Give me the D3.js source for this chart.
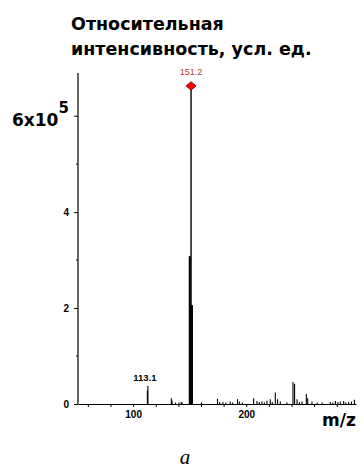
<!DOCTYPE html>
<html><head><meta charset="utf-8">
<script src="https://cdn.jsdelivr.net/npm/d3@7"></script>
<style>body{margin:0;background:#fff;}svg{display:block;}</style>
</head><body>
<svg id="c" width="364" height="471"></svg>
<script>
// m/z values and relative intensities (x10^5)
const mz = [112.6, 113.1, 133.8, 134.4, 137.5, 140.5, 142.5, 143.3, 149.8, 150.4, 151.2, 151.7, 152.3, 160.5,
  174.6, 176.5, 179.4, 182.0, 185.8, 188.0, 192.3, 194.0, 196.5, 206.5, 209.5, 211.5, 213.9, 216.0, 218.3, 221.2,
  223.0, 225.7, 227.7, 230.1, 236.0, 241.3, 242.7, 244.9, 247.0, 249.3, 253.1, 254.3, 258.1, 262.6, 267.0,
  274.3, 276.5, 278.8, 281.0, 283.2, 286.1, 288.0, 290.5, 293.0, 295.6];
const intensity = [0.28, 0.375, 0.12, 0.07, 0.03, 0.03, 0.04, 0.03, 3.08, 3.08, 6.63, 2.06, 2.06, 0.03,
  0.11, 0.04, 0.04, 0.03, 0.05, 0.03, 0.1, 0.05, 0.03, 0.12, 0.06, 0.04, 0.05, 0.03, 0.07, 0.1,
  0.04, 0.24, 0.1, 0.05, 0.03, 0.46, 0.42, 0.1, 0.04, 0.05, 0.21, 0.12, 0.05, 0.03, 0.03,
  0.04, 0.03, 0.06, 0.04, 0.05, 0.06, 0.03, 0.04, 0.05, 0.09];
const peakLabels = [{mz: 151.2, text: "151.2"}, {mz: 113.1, text: "113.1"}];
const yMajor = [0, 2, 4];
const yMinor = [1, 3, 5];
const xTicks = [60, 80, 100, 120, 140, 160, 180, 200, 220, 240, 260, 280];
const xLabeled = [100, 200];
const titleLines = ["Относительная", "интенсивность, усл. ед."];

const svg = d3.select("#c");
const x = d3.scaleLinear().domain([51.3, 297]).range([78, 356]);
const y = d3.scaleLinear().domain([0, 6.9]).range([404, 73]);

// title
svg.append("text").attr("font-family", "DejaVu Sans").attr("font-weight", "bold").attr("font-size", 17.5)
  .selectAll("tspan").data(titleLines).join("tspan")
  .attr("x", 71).attr("y", (d, i) => 30 + i * 24.5).text(d => d);

// y axis
const ya = svg.append("g").attr("transform", "translate(78,0)");
ya.call(d3.axisLeft(y).tickValues(yMajor).tickSize(4).tickSizeOuter(0).tickFormat(d3.format("d")));
ya.selectAll(".tick text").attr("font-family", "Liberation Sans").attr("font-weight", "bold").attr("font-size", 10).attr("dx", "-2");
ya.select(".domain").remove();
ya.append("line").attr("x1", 0).attr("x2", 0).attr("y1", y.range()[1]).attr("y2", y(0)).attr("stroke", "#000").attr("stroke-width", 1.2);
ya.selectAll(".minor").data(yMinor).join("line").attr("x1", -2).attr("x2", 0)
  .attr("y1", d => y(d)).attr("y2", d => y(d)).attr("stroke", "#000");
ya.append("line").attr("x1", -4).attr("x2", 0).attr("y1", y(6)).attr("y2", y(6)).attr("stroke", "#000");
const six = svg.append("text").attr("font-family", "DejaVu Sans").attr("font-weight", "bold")
  .attr("x", 12).attr("y", y(6) + 9.5).attr("font-size", 17);
six.append("tspan").text("6x10");
six.append("tspan").attr("font-size", 15).attr("dy", -13).text("5");

// x axis
const xa = svg.append("g").attr("transform", `translate(0,${y(0)})`);
xa.call(d3.axisBottom(x).tickValues(xTicks).tickSize(3).tickSizeOuter(0)
  .tickFormat(d => xLabeled.includes(d) ? d : ""));
xa.select(".domain").attr("stroke-width", 1.2);
xa.selectAll(".tick text").attr("font-family", "Liberation Sans").attr("font-weight", "bold").attr("font-size", 10).attr("dy", "0.8em");
svg.append("text").attr("x", 322).attr("y", 426).attr("font-family", "DejaVu Sans").attr("font-weight", "bold")
  .attr("font-size", 17).text("m/z");

// peaks
const peaks = mz.map((m, i) => ({m, v: intensity[i]}));
svg.append("g").selectAll("line").data(peaks).join("line")
  .attr("x1", d => x(d.m)).attr("x2", d => x(d.m)).attr("y1", y(0)).attr("y2", d => y(d.v))
  .attr("stroke", "#000").attr("stroke-width", d => d.v > 1 ? 1.4 : 1.1);

// base peak marker
const basePeak = peaks.find(p => p.m === 151.2);
svg.append("path").attr("d", d3.symbol(d3.symbolSquare, 50)())
  .attr("transform", `translate(${x(basePeak.m)},${y(basePeak.v)}) scale(1,0.85) rotate(45)`)
  .attr("fill", "#ff0000").attr("stroke", "#600").attr("stroke-width", 0.8);

// peak labels
svg.append("text").attr("x", x(151.2)).attr("y", y(basePeak.v) - 11).attr("text-anchor", "middle")
  .attr("font-family", "Liberation Sans").attr("font-size", 9).attr("fill", "#b04035").text(peakLabels[0].text);
const p113 = peaks.find(p => p.m === 113.1);
svg.append("text").attr("x", x(113.1) - 3).attr("y", y(p113.v) - 5).attr("text-anchor", "middle")
  .attr("font-family", "Liberation Sans").attr("font-weight", "bold").attr("font-size", 9.5).text(peakLabels[1].text);

// caption
svg.append("text").attr("x", 185).attr("y", 464).attr("text-anchor", "middle").attr("font-family", "Liberation Serif")
  .attr("font-style", "italic").attr("font-size", 21).text("а");
</script>
</body></html>
